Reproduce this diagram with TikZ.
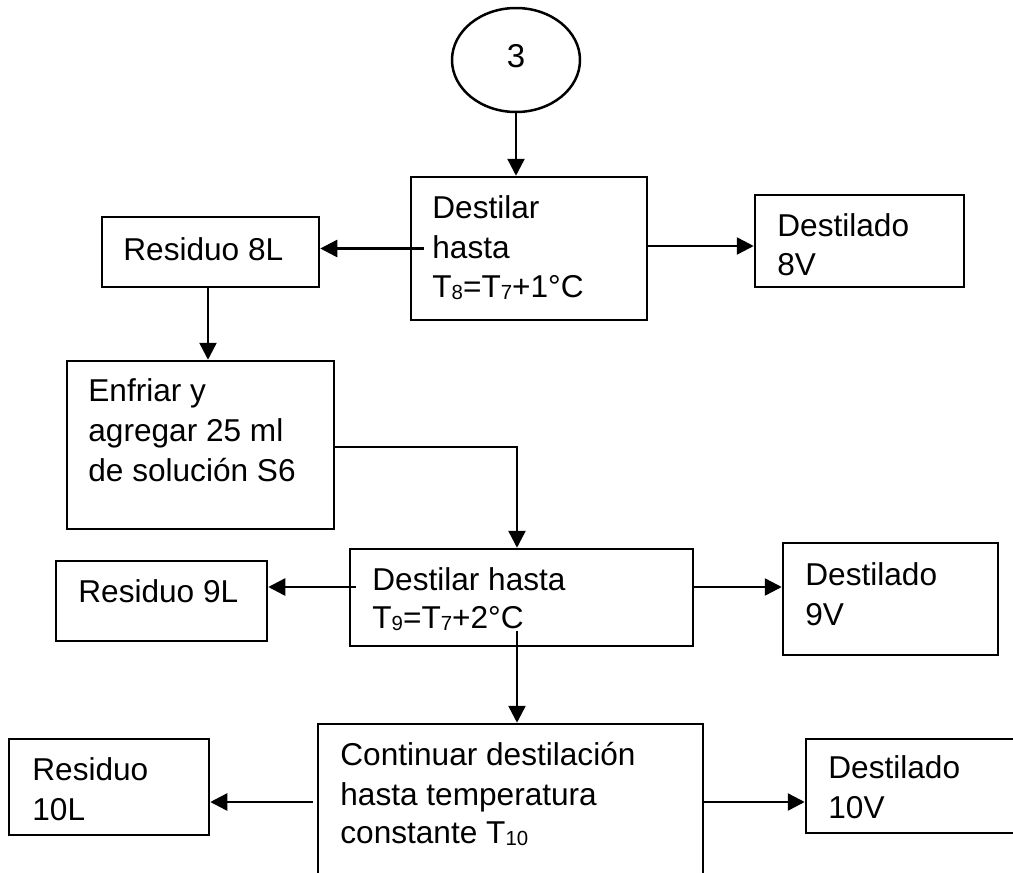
\documentclass[tikz,border=0pt]{standalone}
\usepackage{fontspec}
\setmainfont{Liberation Sans}
\usetikzlibrary{arrows.meta,shapes.geometric}
\newcommand\dsub[1]{\raisebox{-1pt}{\fontsize{10.2}{10.2}\selectfont #1}}
\tikzset{
  boxnode/.style={draw, rectangle, line width=1.25pt, inner sep=0pt},
  ovalnode/.style={draw, ellipse, line width=1.25pt, inner sep=0pt},
  txt/.style={anchor=base west, inner sep=0pt, font=\fontsize{15.8}{18}\selectfont},
  arr/.style={line width=1.25pt, -{Triangle[length=8.5pt,width=8.5pt]}},
}
\begin{document}
\begin{tikzpicture}[x=0.5pt,y=-0.5pt]
\useasboundingbox (0,0) rectangle (1013,873);
\clip (0,0) rectangle (1013,873);
% shapes
\node[ovalnode, minimum width=64pt, minimum height=52pt] (e3) at (516,60) {};
\node[txt, anchor=center, font=\fontsize{16.5}{18}\selectfont] (t3) at (516,56) {3};
\node[boxnode, minimum width=118pt, minimum height=71.5pt] (b1) at (529,248.5) {};
\node[boxnode, minimum width=108.5pt, minimum height=35pt] (r8) at (210.5,252) {};
\node[boxnode, minimum width=104.5pt, minimum height=46pt] (d8) at (859.5,241) {};
\node[boxnode, minimum width=133.5pt, minimum height=84pt] (enf) at (200.5,445) {};
\node[boxnode, minimum width=171.5pt, minimum height=48.5pt] (b2) at (521.5,597.5) {};
\node[boxnode, minimum width=105.5pt, minimum height=40pt] (r9) at (161.5,601) {};
\node[boxnode, minimum width=107.5pt, minimum height=56pt] (d9) at (890.5,599) {};
\node[boxnode, minimum width=192.5pt, minimum height=78pt] (cont) at (510.5,802) {};
\node[boxnode, minimum width=100pt, minimum height=48pt] (r10) at (109,787) {};
\node[boxnode, minimum width=147pt, minimum height=47pt] (d10) at (953,786) {};
% texts
\node[txt] (b1a) at (432,218) {Destilar};
\node[txt] (b1b) at (432,258) {hasta};
\node[txt] (b1c) at (432,297) {T\dsub{8}=T\dsub{7}+1°C};
\node[txt] (r8a) at (123,260) {Residuo 8L};
\node[txt] (d8a) at (777,236) {Destilado};
\node[txt] (d8b) at (777,275) {8V};
\node[txt] (enfa) at (88,401) {Enfriar y};
\node[txt] (enfb) at (88,441) {agregar 25 ml};
\node[txt] (enfc) at (88,481) {de solución S6};
\node[txt] (b2a) at (372,590) {Destilar hasta};
\node[txt] (b2b) at (372,628) {T\dsub{9}=T\dsub{7}+2°C};
\node[txt] (r9a) at (78,602) {Residuo 9L};
\node[txt] (d9a) at (805,585) {Destilado};
\node[txt] (d9b) at (805,625) {9V};
\node[txt] (ca) at (340,765) {Continuar destilación};
\node[txt] (cb) at (340,805) {hasta temperatura};
\node[txt] (cc) at (340,843) {constante T\dsub{10}};
\node[txt] (r10a) at (32,780) {Residuo};
\node[txt] (r10b) at (32,820) {10L};
\node[txt] (d10a) at (828,778) {Destilado};
\node[txt] (d10b) at (828,818) {10V};
% connectors
\draw[arr] (e3.south) -- (e3.south |- b1.north);
\draw[arr] ([xshift=7pt]b1.west) coordinate (p1) -- (p1 -| r8.east);
\draw[arr] ([yshift=1.25pt]b1.east) coordinate (p2) -- (p2 -| d8.west);
\draw[arr] ([xshift=-1.25pt]r8.south) coordinate (p3) -- (p3 |- enf.north);
\draw[arr] ([yshift=-1pt]enf.east) -| ([xshift=-2.25pt]b2.north);
\draw[arr] ([shift={(3.5pt,5.25pt)}]b2.west) coordinate (p4) -- (p4 -| r9.east);
\draw[arr] ([yshift=5.25pt]b2.east) coordinate (p5) -- (p5 -| d9.west);
\draw[arr] ([shift={(-2.25pt,8pt)}]b2.south) coordinate (p6) -- (p6 |- cont.north);
\draw[arr] ([xshift=-2pt]cont.west) coordinate (p7) -- (p7 -| r10.east);
\draw[arr] (cont.east) -- (cont.east -| d10.west);
\end{tikzpicture}
\end{document}
